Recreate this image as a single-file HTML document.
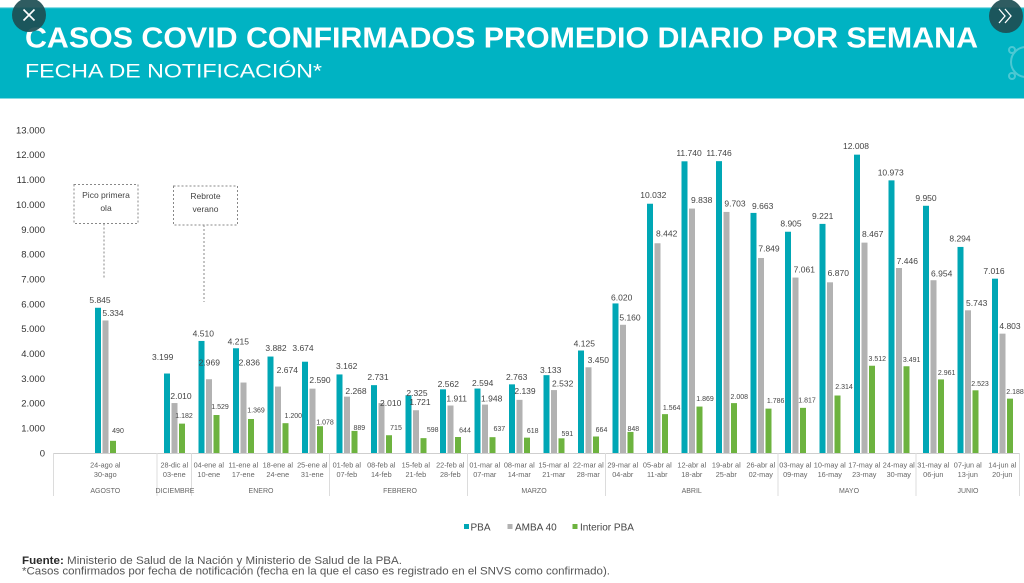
<!DOCTYPE html>
<html>
<head>
<meta charset="utf-8">
<style>
  html,body{margin:0;padding:0;background:#fff;}
  body{width:1024px;height:583px;overflow:hidden;}
  svg{display:block;font-family:"Liberation Sans",sans-serif;}
  .yl{font-size:9.5px;fill:#333;text-anchor:end;}
  .vl{font-size:8.5px;fill:#444;text-anchor:middle;}
  .gl{font-size:7px;fill:#444;text-anchor:middle;}
  .wk{font-size:7.3px;fill:#666;text-anchor:middle;}
  .mo{font-size:7px;fill:#666;text-anchor:middle;}
  .an{font-size:8.5px;fill:#444;text-anchor:middle;}
  .lg{font-size:10px;fill:#444;}
  .p{fill:#00a7b5;} .a{fill:#b2b2b2;} .g{fill:#6db33f;}
</style>
</head>
<body>
<svg width="1024" height="583" viewBox="0 0 1024 583" xmlns="http://www.w3.org/2000/svg">
  <!-- Header band -->
  <rect x="0" y="7" width="1024" height="91.5" fill="#00b3c3"/>
  <rect x="0" y="7" width="1024" height="1.2" fill="#8fdde5"/>
  <text x="25" y="47.3" font-size="28.5" font-weight="bold" fill="#fff" textLength="953" lengthAdjust="spacingAndGlyphs">CASOS COVID CONFIRMADOS PROMEDIO DIARIO POR SEMANA</text>
  <text x="25" y="77.3" font-size="19.5" fill="#fff" textLength="297" lengthAdjust="spacingAndGlyphs">FECHA DE NOTIFICACIÓN*</text>
  <!-- faint decoration right -->
  <g fill="none" stroke="#7fd6df" stroke-width="2" opacity="0.6">
    <circle cx="1026" cy="62" r="15"/>
    <circle cx="1012" cy="50" r="3"/>
    <circle cx="1012" cy="76" r="3"/>
  </g>
  <!-- close / next buttons -->
  <circle cx="29" cy="15" r="17" fill="#1d4e54" opacity="0.92"/>
  <path d="M23.5 9.5 L34.5 20.5 M34.5 9.5 L23.5 20.5" stroke="#fff" stroke-width="1.6"/>
  <circle cx="1006" cy="16" r="17" fill="#1d4e54" opacity="0.92"/>
  <path d="M999 9 L1005 16 L999 23 M1005 9 L1011 16 L1005 23" stroke="#fff" stroke-width="1.3" fill="none"/>

  <!-- Y axis labels -->
  <text class="yl" x="45" y="456.4">0</text>
  <text class="yl" x="45" y="431.6">1.000</text>
  <text class="yl" x="45" y="406.7">2.000</text>
  <text class="yl" x="45" y="381.9">3.000</text>
  <text class="yl" x="45" y="357.0">4.000</text>
  <text class="yl" x="45" y="332.2">5.000</text>
  <text class="yl" x="45" y="307.3">6.000</text>
  <text class="yl" x="45" y="282.5">7.000</text>
  <text class="yl" x="45" y="257.6">8.000</text>
  <text class="yl" x="45" y="232.8">9.000</text>
  <text class="yl" x="45" y="207.9">10.000</text>
  <text class="yl" x="45" y="183.1">11.000</text>
  <text class="yl" x="45" y="158.2">12.000</text>
  <text class="yl" x="45" y="133.4">13.000</text>

  <!-- Annotations -->
  <g fill="none" stroke="#888" stroke-width="1" stroke-dasharray="2,2">
    <rect x="74" y="184.5" width="64" height="39"/>
    <line x1="104" y1="223.5" x2="104" y2="278"/>
    <rect x="173.5" y="186" width="64" height="39"/>
    <line x1="204" y1="225" x2="204" y2="302"/>
  </g>
  <text class="an" x="106" y="198">Pico primera</text>
  <text class="an" x="106" y="211">ola</text>
  <text class="an" x="205.5" y="199">Rebrote</text>
  <text class="an" x="205.5" y="212">verano</text>

  <!-- Bars -->
  <g>
    <rect class="p" x="95" y="307.77" width="6" height="145.23"/><rect class="a" x="102.5" y="320.47" width="6" height="132.53"/><rect class="g" x="110" y="440.83" width="6" height="12.17"/>
    <rect class="p" x="164" y="373.52" width="6" height="79.48"/><rect class="a" x="171.5" y="403.06" width="6" height="49.94"/><rect class="g" x="179" y="423.63" width="6" height="29.37"/>
    <rect class="p" x="198.5" y="340.94" width="6" height="112.06"/><rect class="a" x="206" y="379.23" width="6" height="73.77"/><rect class="g" x="213.5" y="415.01" width="6" height="37.99"/>
    <rect class="p" x="233" y="348.27" width="6" height="104.73"/><rect class="a" x="240.5" y="382.54" width="6" height="70.46"/><rect class="g" x="248" y="418.99" width="6" height="34.01"/>
    <rect class="p" x="267.5" y="356.55" width="6" height="96.45"/><rect class="a" x="275" y="386.56" width="6" height="66.44"/><rect class="g" x="282.5" y="423.18" width="6" height="29.82"/>
    <rect class="p" x="302" y="361.71" width="6" height="91.29"/><rect class="a" x="309.5" y="388.65" width="6" height="64.35"/><rect class="g" x="317" y="426.22" width="6" height="26.78"/>
    <rect class="p" x="336.5" y="374.44" width="6" height="78.56"/><rect class="a" x="344" y="396.65" width="6" height="56.35"/><rect class="g" x="351.5" y="430.91" width="6" height="22.09"/>
    <rect class="p" x="371" y="385.15" width="6" height="67.85"/><rect class="a" x="378.5" y="403.06" width="6" height="49.94"/><rect class="g" x="386" y="435.23" width="6" height="17.77"/>
    <rect class="p" x="405.5" y="395.23" width="6" height="57.77"/><rect class="a" x="413" y="410.24" width="6" height="42.76"/><rect class="g" x="420.5" y="438.14" width="6" height="14.86"/>
    <rect class="p" x="440" y="389.34" width="6" height="63.66"/><rect class="a" x="447.5" y="405.52" width="6" height="47.48"/><rect class="g" x="455" y="437.00" width="6" height="16.00"/>
    <rect class="p" x="474.5" y="388.55" width="6" height="64.45"/><rect class="a" x="482" y="404.60" width="6" height="48.40"/><rect class="g" x="489.5" y="437.17" width="6" height="15.83"/>
    <rect class="p" x="509" y="384.35" width="6" height="68.65"/><rect class="a" x="516.5" y="399.85" width="6" height="53.15"/><rect class="g" x="524" y="437.64" width="6" height="15.36"/>
    <rect class="p" x="543.5" y="375.16" width="6" height="77.84"/><rect class="a" x="551" y="390.09" width="6" height="62.91"/><rect class="g" x="558.5" y="438.32" width="6" height="14.68"/>
    <rect class="p" x="578" y="350.51" width="6" height="102.49"/><rect class="a" x="585.5" y="367.28" width="6" height="85.72"/><rect class="g" x="593" y="436.50" width="6" height="16.50"/>
    <rect class="p" x="612.5" y="303.43" width="6" height="149.57"/><rect class="a" x="620" y="324.79" width="6" height="128.21"/><rect class="g" x="627.5" y="431.93" width="6" height="21.07"/>
    <rect class="p" x="647" y="203.74" width="6" height="249.26"/><rect class="a" x="654.5" y="243.25" width="6" height="209.75"/><rect class="g" x="662" y="414.14" width="6" height="38.86"/>
    <rect class="p" x="681.5" y="161.31" width="6" height="291.69"/><rect class="a" x="689" y="208.56" width="6" height="244.44"/><rect class="g" x="696.5" y="406.56" width="6" height="46.44"/>
    <rect class="p" x="716" y="161.16" width="6" height="291.84"/><rect class="a" x="723.5" y="211.92" width="6" height="241.08"/><rect class="g" x="731" y="403.11" width="6" height="49.89"/>
    <rect class="p" x="750.5" y="212.91" width="6" height="240.09"/><rect class="a" x="758" y="257.98" width="6" height="195.02"/><rect class="g" x="765.5" y="408.62" width="6" height="44.38"/>
    <rect class="p" x="785" y="231.74" width="6" height="221.26"/><rect class="a" x="792.5" y="277.56" width="6" height="175.44"/><rect class="g" x="800" y="407.85" width="6" height="45.15"/>
    <rect class="p" x="819.5" y="223.89" width="6" height="229.11"/><rect class="a" x="827" y="282.31" width="6" height="170.69"/><rect class="g" x="834.5" y="395.51" width="6" height="57.49"/>
    <rect class="p" x="854" y="154.65" width="6" height="298.35"/><rect class="a" x="861.5" y="242.63" width="6" height="210.37"/><rect class="g" x="869" y="365.74" width="6" height="87.26"/>
    <rect class="p" x="888.5" y="180.36" width="6" height="272.64"/><rect class="a" x="896" y="268.00" width="6" height="185.00"/><rect class="g" x="903.5" y="366.26" width="6" height="86.74"/>
    <rect class="p" x="923" y="205.78" width="6" height="247.22"/><rect class="a" x="930.5" y="280.22" width="6" height="172.78"/><rect class="g" x="938" y="379.43" width="6" height="73.57"/>
    <rect class="p" x="957.5" y="246.93" width="6" height="206.07"/><rect class="a" x="965" y="310.31" width="6" height="142.69"/><rect class="g" x="972.5" y="390.31" width="6" height="62.69"/>
    <rect class="p" x="992" y="278.68" width="6" height="174.32"/><rect class="a" x="999.5" y="333.66" width="6" height="119.34"/><rect class="g" x="1007" y="398.64" width="6" height="54.36"/>
  </g>

  <!-- Value labels -->
  <g>
    <text class="vl" x="100" y="303.1">5.845</text><text class="vl" x="113" y="315.8">5.334</text><text class="gl" x="118" y="433.2">490</text>
    <text class="vl" x="162.7" y="359.8">3.199</text><text class="vl" x="181" y="399.1">2.010</text><text class="gl" x="184" y="418.2">1.182</text>
    <text class="vl" x="203.3" y="336.4">4.510</text><text class="vl" x="209.3" y="365.4">2.969</text><text class="gl" x="220" y="409.2">1.529</text>
    <text class="vl" x="238.3" y="344.4">4.215</text><text class="vl" x="249.3" y="365.4">2.836</text><text class="gl" x="256" y="412.5">1.369</text>
    <text class="vl" x="276" y="350.8">3.882</text><text class="vl" x="287.3" y="373.1">2.674</text><text class="gl" x="293.3" y="418.2">1.200</text>
    <text class="vl" x="303" y="350.8">3.674</text><text class="vl" x="320" y="383.1">2.590</text><text class="gl" x="325" y="424.5">1.078</text>
    <text class="vl" x="346.7" y="369.1">3.162</text><text class="vl" x="356" y="393.8">2.268</text><text class="gl" x="359.3" y="429.8">889</text>
    <text class="vl" x="378" y="379.8">2.731</text><text class="vl" x="390.7" y="406.1">2.010</text><text class="gl" x="396" y="429.8">715</text>
    <text class="vl" x="417" y="396">2.325</text><text class="vl" x="420" y="404.8">1.721</text><text class="gl" x="432.7" y="431.8">598</text>
    <text class="vl" x="448.3" y="387.2">2.562</text><text class="vl" x="456.7" y="401.5">1.911</text><text class="gl" x="465" y="432.5">644</text>
    <text class="vl" x="482.7" y="385.9">2.594</text><text class="vl" x="491.7" y="401.5">1.948</text><text class="gl" x="499.3" y="430.8">637</text>
    <text class="vl" x="516.7" y="379.9">2.763</text><text class="vl" x="525" y="393.9">2.139</text><text class="gl" x="532.7" y="433.2">618</text>
    <text class="vl" x="550.7" y="373.2">3.133</text><text class="vl" x="562.7" y="386.5">2.532</text><text class="gl" x="567.3" y="435.8">591</text>
    <text class="vl" x="584.3" y="346.5">4.125</text><text class="vl" x="598.3" y="363.2">3.450</text><text class="gl" x="601.5" y="432">664</text>
    <text class="vl" x="621.7" y="300.5">6.020</text><text class="vl" x="630" y="320.5">5.160</text><text class="gl" x="633.3" y="430.8">848</text>
    <text class="vl" x="653.3" y="198.2">10.032</text><text class="vl" x="666.7" y="236.5">8.442</text><text class="gl" x="671.7" y="410.2">1.564</text>
    <text class="vl" x="689" y="155.9">11.740</text><text class="vl" x="701.7" y="203.2">9.838</text><text class="gl" x="705" y="400.8">1.869</text>
    <text class="vl" x="719" y="155.9">11.746</text><text class="vl" x="735" y="206.5">9.703</text><text class="gl" x="739.3" y="399.2">2.008</text>
    <text class="vl" x="762.7" y="209.2">9.663</text><text class="vl" x="769" y="251.5">7.849</text><text class="gl" x="775.7" y="403.2">1.786</text>
    <text class="vl" x="791" y="226.5">8.905</text><text class="vl" x="804.3" y="272.5">7.061</text><text class="gl" x="807" y="402.5">1.817</text>
    <text class="vl" x="822.7" y="219.2">9.221</text><text class="vl" x="838.3" y="275.9">6.870</text><text class="gl" x="844" y="389.2">2.314</text>
    <text class="vl" x="856" y="149.2">12.008</text><text class="vl" x="872.7" y="237.2">8.467</text><text class="gl" x="877.3" y="360.8">3.512</text>
    <text class="vl" x="890.7" y="175.5">10.973</text><text class="vl" x="907.3" y="263.9">7.446</text><text class="gl" x="911.7" y="361.8">3.491</text>
    <text class="vl" x="926" y="200.9">9.950</text><text class="vl" x="941.7" y="276.5">6.954</text><text class="gl" x="946.7" y="375.2">2.961</text>
    <text class="vl" x="960" y="241.5">8.294</text><text class="vl" x="976.7" y="305.9">5.743</text><text class="gl" x="980" y="385.8">2.523</text>
    <text class="vl" x="994" y="274.2">7.016</text><text class="vl" x="1010" y="328.9">4.803</text><text class="gl" x="1015" y="394.2">2.188</text>
  </g>

  <!-- X axis -->
  <line x1="53.5" y1="453.5" x2="1019.5" y2="453.5" stroke="#cfcfcf" stroke-width="1"/>
  <g stroke="#dcdcdc" stroke-width="1">
    <line x1="53.5" y1="453" x2="53.5" y2="496"/>
    <line x1="157" y1="453" x2="157" y2="496"/>
    <line x1="191.5" y1="453" x2="191.5" y2="496"/>
    <line x1="329.5" y1="453" x2="329.5" y2="496"/>
    <line x1="467.5" y1="453" x2="467.5" y2="496"/>
    <line x1="605.5" y1="453" x2="605.5" y2="496"/>
    <line x1="778" y1="453" x2="778" y2="496"/>
    <line x1="916" y1="453" x2="916" y2="496"/>
    <line x1="1019.5" y1="453" x2="1019.5" y2="496"/>
  </g>
  <g>
    <text class="wk" x="105.3" y="467.6">24-ago al</text><text class="wk" x="105.3" y="477">30-ago</text>
    <text class="wk" x="174.3" y="467.6">28-dic al</text><text class="wk" x="174.3" y="477">03-ene</text>
    <text class="wk" x="208.8" y="467.6">04-ene al</text><text class="wk" x="208.8" y="477">10-ene</text>
    <text class="wk" x="243.3" y="467.6">11-ene al</text><text class="wk" x="243.3" y="477">17-ene</text>
    <text class="wk" x="277.8" y="467.6">18-ene al</text><text class="wk" x="277.8" y="477">24-ene</text>
    <text class="wk" x="312.3" y="467.6">25-ene al</text><text class="wk" x="312.3" y="477">31-ene</text>
    <text class="wk" x="346.8" y="467.6">01-feb al</text><text class="wk" x="346.8" y="477">07-feb</text>
    <text class="wk" x="381.3" y="467.6">08-feb al</text><text class="wk" x="381.3" y="477">14-feb</text>
    <text class="wk" x="415.8" y="467.6">15-feb al</text><text class="wk" x="415.8" y="477">21-feb</text>
    <text class="wk" x="450.3" y="467.6">22-feb al</text><text class="wk" x="450.3" y="477">28-feb</text>
    <text class="wk" x="484.8" y="467.6">01-mar al</text><text class="wk" x="484.8" y="477">07-mar</text>
    <text class="wk" x="519.3" y="467.6">08-mar al</text><text class="wk" x="519.3" y="477">14-mar</text>
    <text class="wk" x="553.8" y="467.6">15-mar al</text><text class="wk" x="553.8" y="477">21-mar</text>
    <text class="wk" x="588.3" y="467.6">22-mar al</text><text class="wk" x="588.3" y="477">28-mar</text>
    <text class="wk" x="622.8" y="467.6">29-mar al</text><text class="wk" x="622.8" y="477">04-abr</text>
    <text class="wk" x="657.3" y="467.6">05-abr al</text><text class="wk" x="657.3" y="477">11-abr</text>
    <text class="wk" x="691.8" y="467.6">12-abr al</text><text class="wk" x="691.8" y="477">18-abr</text>
    <text class="wk" x="726.3" y="467.6">19-abr al</text><text class="wk" x="726.3" y="477">25-abr</text>
    <text class="wk" x="760.8" y="467.6">26-abr al</text><text class="wk" x="760.8" y="477">02-may</text>
    <text class="wk" x="795.3" y="467.6">03-may al</text><text class="wk" x="795.3" y="477">09-may</text>
    <text class="wk" x="829.8" y="467.6">10-may al</text><text class="wk" x="829.8" y="477">16-may</text>
    <text class="wk" x="864.3" y="467.6">17-may al</text><text class="wk" x="864.3" y="477">23-may</text>
    <text class="wk" x="898.8" y="467.6">24-may al</text><text class="wk" x="898.8" y="477">30-may</text>
    <text class="wk" x="933.3" y="467.6">31-may al</text><text class="wk" x="933.3" y="477">06-jun</text>
    <text class="wk" x="967.8" y="467.6">07-jun al</text><text class="wk" x="967.8" y="477">13-jun</text>
    <text class="wk" x="1002.3" y="467.6">14-jun al</text><text class="wk" x="1002.3" y="477">20-jun</text>
  </g>
  <g>
    <text class="mo" x="105.3" y="493">AGOSTO</text>
    <text class="mo" x="175" y="493">DICIEMBRE</text>
    <text class="mo" x="261" y="493">ENERO</text>
    <text class="mo" x="400" y="493">FEBRERO</text>
    <text class="mo" x="534" y="493">MARZO</text>
    <text class="mo" x="691.7" y="493">ABRIL</text>
    <text class="mo" x="849" y="493">MAYO</text>
    <text class="mo" x="968" y="493">JUNIO</text>
  </g>

  <!-- Legend -->
  <rect x="464" y="524" width="5" height="5" fill="#00a7b5"/>
  <text class="lg" x="470.5" y="530.7">PBA</text>
  <rect x="507.5" y="524" width="5" height="5" fill="#b2b2b2"/>
  <text class="lg" x="515" y="530.7">AMBA 40</text>
  <rect x="572.5" y="524" width="5" height="5" fill="#6db33f"/>
  <text class="lg" x="580" y="530.7">Interior PBA</text>

  <!-- Footer -->
  <text x="22" y="564" font-size="11" fill="#555" textLength="380" lengthAdjust="spacingAndGlyphs"><tspan font-weight="bold" fill="#2a2a2a">Fuente:</tspan> Ministerio de Salud de la Nación y Ministerio de Salud de la PBA.</text>
  <text x="22" y="574.5" font-size="11" fill="#555" textLength="588" lengthAdjust="spacingAndGlyphs">*Casos confirmados por fecha de notificación (fecha en la que el caso es registrado en el SNVS como confirmado).</text>
</svg>
</body>
</html>
